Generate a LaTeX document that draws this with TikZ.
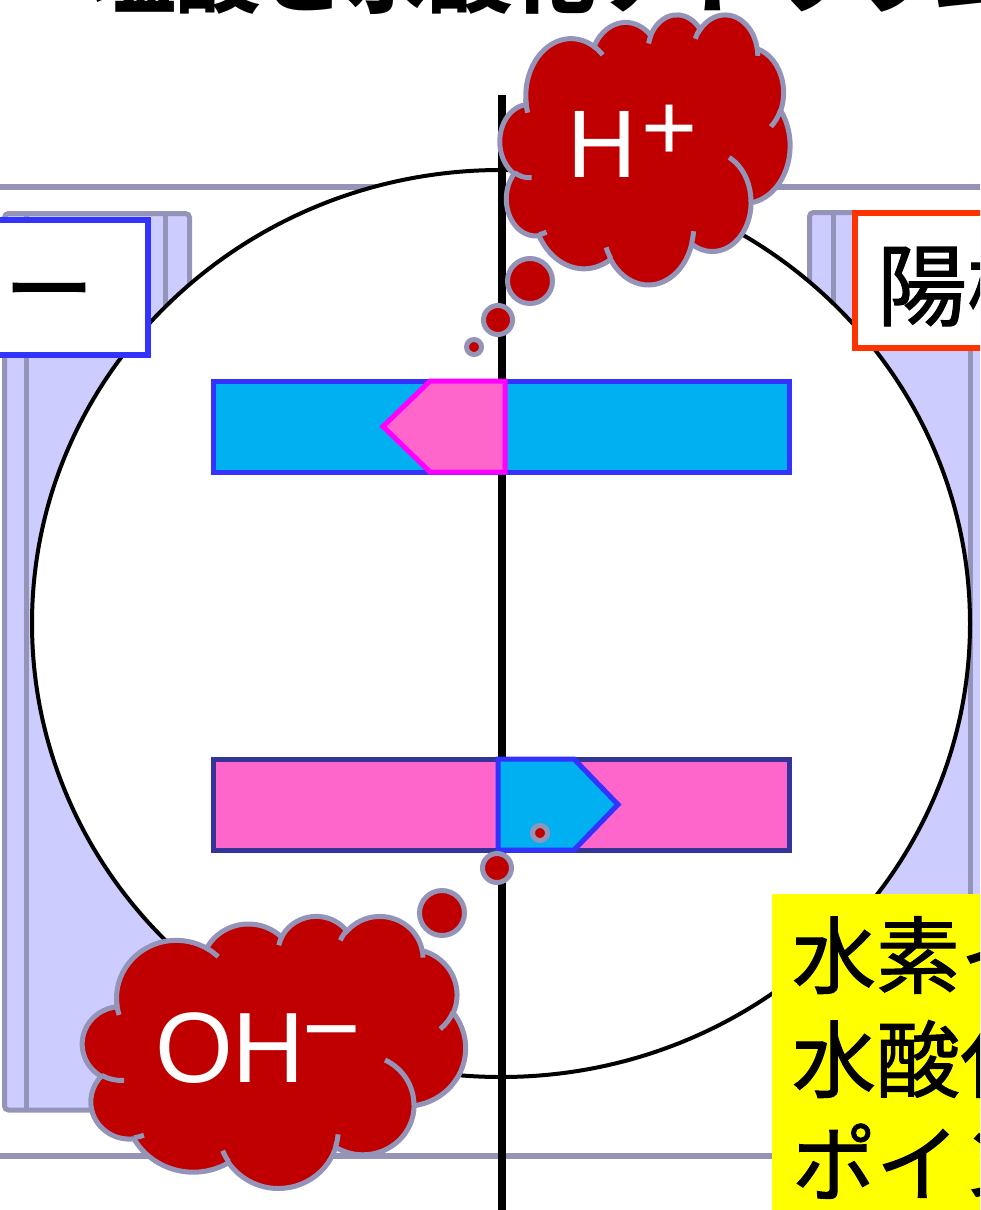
\documentclass[tikz,border=0pt]{standalone}
\usepackage{fontspec}
\usetikzlibrary{shapes.geometric}
\newfontfamily\jpfont{Noto Sans CJK JP}
\newfontfamily\jpmedfont[FakeBold=1.2]{Noto Sans CJK JP}
\newfontfamily\latfont{Liberation Sans}
\definecolor{edgegray}{RGB}{148,148,184}
\definecolor{lav}{RGB}{204,204,255}
\definecolor{dred}{RGB}{192,0,0}
\definecolor{cyanb}{RGB}{0,176,240}
\definecolor{blueb}{RGB}{51,51,255}
\definecolor{pinkb}{RGB}{255,102,204}
\definecolor{magb}{RGB}{255,0,255}
\definecolor{navyb}{RGB}{51,51,153}
\definecolor{orab}{RGB}{255,51,0}
\definecolor{yelb}{RGB}{255,255,0}
\tikzset{
  ooarc/.style n args={4}{x radius=#1, y radius=#2,
    start angle={atan2((#1)*sin(#3),(#2)*cos(#3))},
    delta angle={mod(atan2((#1)*sin((#3)+(#4)),(#2)*cos((#3)+(#4)))-atan2((#1)*sin(#3),(#2)*cos(#3))+720,360)}},
  cloudbody/.style={fill=dred, draw=edgegray, line width=5pt},
  cloudinner/.style={draw=edgegray, line width=5pt},
  bubble/.style={fill=dred, draw=edgegray, line width=5pt},
  electrode/.style={fill=lav, draw=edgegray, line width=5pt},
  wall/.style={draw=edgegray, line width=6pt},
  barbox/.style={rectangle, line width=5pt, inner sep=0pt, minimum width=576pt, minimum height=91pt},
  labelbox/.style={rectangle, fill=white, line width=6pt, inner sep=0pt, minimum height=135pt},
  txt/.style={inner sep=0pt, outer sep=0pt},
}
\newcommand\pptcloud[4]{%
\begin{scope}[shift={(#1,#2)}, x=#3pt, y=-#4pt]
\draw[cloudbody] (39.00,143.70)
  arc[ooarc={67.53}{91.90}{-190.48748}{123.78053}]
  arc[ooarc={53.33}{72.67}{-144.10238}{89.94523}]
  arc[ooarc={43.65}{59.45}{-145.80792}{99.72302}]
  arc[ooarc={48.57}{65.95}{-130.98607}{117.24173}]
  arc[ooarc={53.33}{72.73}{-78.70888}{109.02692}]
  arc[ooarc={67.75}{92.20}{-46.26725}{130.26900}]
  arc[ooarc={57.85}{78.67}{0.62502}{114.03333}]
  arc[ooarc={67.52}{92.15}{22.45160}{115.17255}]
  arc[ooarc={77.20}{105.43}{66.24263}{75.71102}]
  arc[ooarc={43.60}{59.18}{-274.94208}{146.73557}]
  arc[ooarc={43.45}{59.45}{-246.82850}{152.51885}]
  -- cycle;
\draw[cloudinner]
  (46.93,261.77) arc[ooarc={43.45}{59.45}{86.74200}{26.42950}]
  (69.28,348.99) arc[ooarc={43.60}{59.18}{73.61047}{11.44747}]
  (164.78,390.90) arc[ooarc={67.52}{92.15}{137.62415}{14.08110}]
  (288.27,347.51) arc[ooarc={67.52}{92.15}{6.45327}{15.99835}]
  (341.29,229.54) arc[ooarc={57.85}{78.67}{-70.29235}{70.91737}]
  (417.98,153.54) arc[ooarc={53.33}{72.73}{30.31803}{27.75150}]
  (383.24,54.26) arc[ooarc={48.57}{65.95}{-13.74433}{14.85890}]
  (290.78,39.52) arc[ooarc={48.57}{65.95}{-149.18145}{18.19537}]
  (221.41,47.20) arc[ooarc={43.65}{59.45}{-163.49427}{17.68635}]
  (140.00,51.92) arc[ooarc={67.53}{91.90}{-66.70695}{12.31935}]
  (41.27,157.89) arc[ooarc={67.53}{91.90}{156.62748}{18.29928}];
\end{scope}}
\begin{document}
\begin{tikzpicture}[x=1pt,y=-1pt]
\useasboundingbox (0,0) rectangle (980,1210);
\clip (0,0) rectangle (980,1210);
% title (cut off at the top)
\node[txt, anchor=base west] (title) at (92,6)
  {\jpfont\bfseries\fontsize{84}{84}\selectfont 塩酸と水酸化ナトリウム};
% container walls
\coordinate (wtl) at (-10,187); \coordinate (wtr) at (990,187);
\coordinate (wbl) at (-10,1156); \coordinate (wbr) at (990,1156);
\draw[wall] (wtl) -- (wtr);
\draw[wall] (wbl) -- (wbr);
% electrodes
\draw[electrode, rounded corners=4pt] (4.5,213.5) rectangle (189.5,1110);
\draw[edgegray, line width=5pt] (26.5,213.5) -- (26.5,1110) (165.5,213.5) -- (165.5,1110);
\draw[electrode, rounded corners=4pt] (809.5,212.5) rectangle (994.5,1110);
\draw[edgegray, line width=5pt] (833.5,212.5) -- (833.5,1110) (970.5,212.5) -- (970.5,1110);
% big circle
\node[draw=black, line width=4pt, fill=white, ellipse, inner sep=0pt,
  minimum width=938pt, minimum height=907pt] (ring) at (501,623.5) {};
% vertical axis
\coordinate (vtop) at (502,95); \coordinate (vbot) at (502,1220);
\draw[black, line width=8pt] (vtop) -- (vbot);
% bars
\node[barbox, fill=cyanb, draw=blueb] (topbar) at (501,426.5) {};
\draw[fill=pinkb, draw=magb, line width=5pt] (383,426.5) -- (430,381) -- (505,381) -- (505,472) -- (430,472) -- cycle;
\node[barbox, fill=pinkb, draw=navyb] (botbar) at (501,804.5) {};
\draw[fill=cyanb, draw=blueb, line width=5pt] (498,759) -- (574,759) -- (618,804.5) -- (574,850) -- (498,850) -- cycle;
% label boxes
\node[labelbox, draw=blueb, minimum width=248pt] (leftbox) at (24,287.5) {};
\node[txt, anchor=base east] (lefttext) at (94,322) {\jpmedfont\fontsize{90}{90}\selectfont ー};
\node[labelbox, draw=orab, minimum width=245pt] (rightbox) at (977.5,280.5) {};
\node[txt, anchor=base west] (righttext) at (877,319) {\jpmedfont\fontsize{90}{90}\selectfont 陽極};
% yellow note
\fill[yelb] (771.5,893.5) rectangle (1000,1220);
\node[txt, anchor=base west] (note1) at (792,987) {\jpmedfont\fontsize{84}{84}\selectfont 水素イ};
\node[txt, anchor=base west] (note2) at (792,1091) {\jpmedfont\fontsize{84}{84}\selectfont 水酸化};
\node[txt, anchor=base west] (note3) at (792,1195) {\jpmedfont\fontsize{84}{84}\selectfont ポイン};
% thought bubbles
\draw[bubble] (474,347) circle[radius=7.5];
\draw[bubble] (498,320) circle[radius=14.5];
\draw[bubble] (530,281) circle[radius=22.5];
\draw[bubble] (540,833) circle[radius=7.5];
\draw[bubble] (497,868) circle[radius=14.5];
\draw[bubble] (442,913) circle[radius=22.5];
% clouds
\pptcloud{500}{14}{0.67130}{0.62500}
\pptcloud{82.5}{915.5}{0.88657}{0.62963}
\node[txt, anchor=base west, text=white] (hion) at (567,177) {\latfont\fontsize{96}{96}\selectfont H};
\node[txt, anchor=base, text=white] (hplus) at (670,160) {\latfont\fontsize{96}{96}\selectfont +};
\node[txt, anchor=base west, text=white] (ohion) at (155,1082) {\latfont\fontsize{100}{100}\selectfont OH};
\node[txt, anchor=base, text=white] (ohminus) at (332,1062) {\latfont\fontsize{100}{100}\selectfont −};
\end{tikzpicture}
\end{document}
